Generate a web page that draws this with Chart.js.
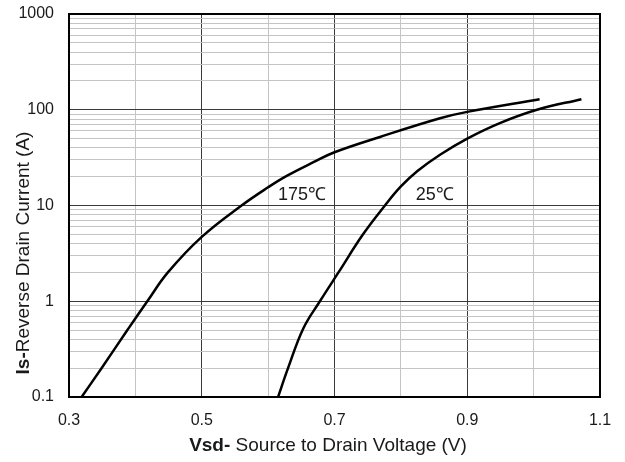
<!DOCTYPE html>
<html>
<head>
<meta charset="utf-8">
<script src="https://cdn.jsdelivr.net/npm/chart.js@4.4.1/dist/chart.umd.min.js"></script>
<style>
html,body{margin:0;padding:0;background:#fff;}
#wrap{width:625px;height:462px;position:relative;}
</style>
</head>
<body>
<div id="wrap"><canvas id="c"></canvas></div>
<script>
// ---- data ----
const vsd175 = [0.319, 0.349, 0.388, 0.418, 0.449, 0.500, 0.560, 0.600, 0.628, 0.669, 0.700, 0.7685, 0.859, 0.900, 1.009];
const is175  = [0.1,   0.2,   0.5,   1,     2,     4.7,   10,    15.5,  20.4,  28.5,  36,    52,     81.5,  95,    129];
const vsd25  = [0.615, 0.630, 0.653, 0.678, 0.706, 0.743, 0.776, 0.800, 0.825, 0.859, 0.900, 0.950, 1.005, 1.072];
const is25   = [0.1,   0.2,   0.52,  1,     2,     5,     10,    15.8,  22.9,  33.9,  50,    73,    100,   129];
const seriesNames = ['175℃', '25℃'];
const labelV = [0.651, 0.851];
const labelI = [12.9, 12.9];
const xTickLabels = ['0.3', '0.5', '0.7', '0.9', '1.1'];
const yTickLabels = ['0.1', '1', '10', '100', '1000'];
const xTitleBold = 'Vsd-';
const xTitleRest = ' Source to Drain Voltage (V)';
const yTitleBold = 'Is-';
const yTitleRest = 'Reverse Drain Current (A)';

const FONT = '"Liberation Sans", Arial, Helvetica, sans-serif';
const TXT = '#1a1a1a';
const MAJOR = '#3a3a3a';
const MINOR = '#c4c4c4';

function pts(xs, ys){ return xs.map((x,i)=>({x:x, y:ys[i]})); }
function isDecade(v){ const l = Math.log10(v); return Math.abs(l - Math.round(l)) < 1e-9; }
function isMajorX(v){ const k = (v - 0.3) / 0.2; return Math.abs(k - Math.round(k)) < 1e-6; }

const decorPlugin = {
  id: 'decor',
  afterDraw(chart){
    const ctx = chart.ctx, a = chart.chartArea;
    const xs = chart.scales.x, ys = chart.scales.y;
    ctx.save();
    // frame
    ctx.strokeStyle = '#000';
    ctx.lineWidth = 2;
    ctx.strokeRect(a.left, a.top, a.right - a.left, a.bottom - a.top);
    // curve labels
    ctx.fillStyle = TXT;
    ctx.font = '18px ' + FONT;
    ctx.textAlign = 'center';
    ctx.textBaseline = 'middle';
    seriesNames.forEach((n,i)=>{
      ctx.fillText(n, xs.getPixelForValue(labelV[i]), ys.getPixelForValue(labelI[i]));
    });
    // x title
    ctx.textAlign = 'left';
    ctx.font = 'bold 19px ' + FONT;
    const wb = ctx.measureText(xTitleBold).width;
    ctx.font = '19px ' + FONT;
    const wr = ctx.measureText(xTitleRest).width;
    let x0 = 328 - (wb + wr) / 2;
    const ty = 446;
    ctx.font = 'bold 19px ' + FONT;
    ctx.fillText(xTitleBold, x0, ty);
    ctx.font = '19px ' + FONT;
    ctx.fillText(xTitleRest, x0 + wb, ty);
    // y title
    ctx.translate(24, 253);
    ctx.rotate(-Math.PI / 2);
    ctx.font = 'bold 19px ' + FONT;
    const yb = ctx.measureText(yTitleBold).width;
    ctx.font = '19px ' + FONT;
    const yr = ctx.measureText(yTitleRest).width;
    const y0 = -(yb + yr) / 2;
    ctx.font = 'bold 19px ' + FONT;
    ctx.fillText(yTitleBold, y0, 0);
    ctx.font = '19px ' + FONT;
    ctx.fillText(yTitleRest, y0 + yb, 0);
    ctx.restore();
  }
};

new Chart(document.getElementById('c'), {
  type: 'line',
  data: {
    datasets: [
      { label: seriesNames[0], data: pts(vsd175, is175), borderColor: '#000', borderWidth: 2.5,
        pointRadius: 0, tension: 0.4, fill: false },
      { label: seriesNames[1], data: pts(vsd25, is25), borderColor: '#000', borderWidth: 2.5,
        pointRadius: 0, tension: 0.4, fill: false }
    ]
  },
  options: {
    responsive: true,
    maintainAspectRatio: false,
    animation: false,
    layout: { padding: { left: 0, top: 14, right: 25, bottom: 0 } },
    plugins: { legend: { display: false }, tooltip: { enabled: false } },
    scales: {
      x: {
        type: 'linear', min: 0.3, max: 1.1,
        afterFit(s){ s.height = 65; s.paddingLeft = 0; s.paddingRight = 0; },
        ticks: {
          stepSize: 0.1, autoSkip: false, maxRotation: 0, padding: 14,
          color: TXT, font: { family: FONT, size: 16 },
          callback(v){ const t = Number(v).toFixed(1); return xTickLabels.includes(t) ? t : ''; }
        },
        grid: { drawTicks: false, lineWidth: 1,
          color: c => isMajorX(c.tick.value) ? MAJOR : MINOR },
        border: { display: false }
      },
      y: {
        type: 'logarithmic', min: 0.1, max: 1000,
        afterFit(s){ s.width = 69; s.paddingTop = 0; s.paddingBottom = 0; },
        afterBuildTicks(s){
          const t = [];
          [0.1, 1, 10, 100].forEach(d => { for (let k = 1; k <= 9; k++) t.push({ value: +(k * d).toPrecision(6) }); });
          t.push({ value: 1000 });
          s.ticks = t;
        },
        ticks: {
          autoSkip: false, padding: 15,
          color: TXT, font: { family: FONT, size: 16 },
          callback(v){
            if (!isDecade(v)) return '';
            const i = Math.round(Math.log10(v)) + 1;
            return yTickLabels[i];
          }
        },
        grid: { drawTicks: false, lineWidth: 1,
          color: c => isDecade(c.tick.value) ? MAJOR : MINOR },
        border: { display: false }
      }
    }
  },
  plugins: [decorPlugin]
});
</script>
</body>
</html>
